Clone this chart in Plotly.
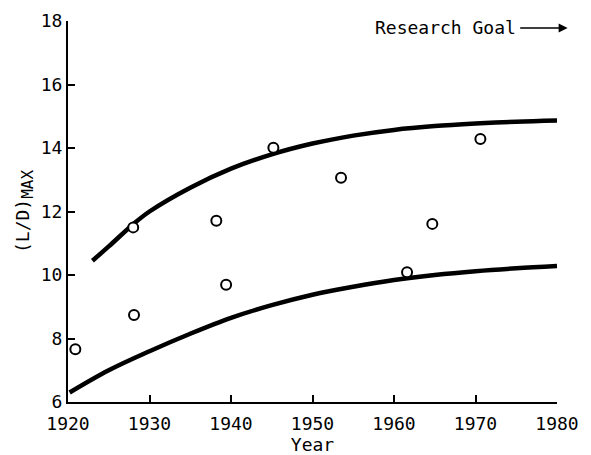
import plotly.graph_objects as go

# Upper trend curve
upper_year = [1923, 1925, 1928, 1930, 1935, 1940, 1945, 1950, 1955, 1960, 1965, 1970, 1975, 1980]
upper_ld = [10.45, 10.9, 11.6, 12.0, 12.75, 13.35, 13.8, 14.14, 14.39, 14.57, 14.69, 14.77, 14.83, 14.87]

# Lower trend curve
lower_year = [1920.2, 1925, 1930, 1935, 1940, 1945, 1950, 1955, 1960, 1965, 1970, 1975, 1980]
lower_ld = [6.3, 7.0, 7.6, 8.15, 8.65, 9.05, 9.38, 9.63, 9.84, 10.0, 10.12, 10.21, 10.28]

# Data points
pt_year = [1920.9, 1928.0, 1928.1, 1938.2, 1939.4, 1945.2, 1953.5, 1961.6, 1964.7, 1970.6]
pt_ld = [7.66, 11.5, 8.74, 11.71, 9.69, 14.01, 13.06, 10.09, 11.61, 14.28]

x_ticks = [1920, 1930, 1940, 1950, 1960, 1970, 1980]
y_ticks = [6, 8, 10, 12, 14, 16, 18]

FONT = "DejaVu Sans Mono"

fig = go.Figure()
fig.add_trace(go.Scatter(x=upper_year, y=upper_ld, mode="lines",
                         line=dict(color="black", width=4.5, shape="spline"),
                         showlegend=False, hoverinfo="skip"))
fig.add_trace(go.Scatter(x=lower_year, y=lower_ld, mode="lines",
                         line=dict(color="black", width=4.5, shape="spline"),
                         showlegend=False, hoverinfo="skip"))
fig.add_trace(go.Scatter(x=pt_year, y=pt_ld, mode="markers",
                         marker=dict(symbol="circle", size=10, color="white",
                                     line=dict(color="black", width=2)),
                         cliponaxis=False, showlegend=False))

fig.add_annotation(x=1975.2, y=17.8, xref="x", yref="y", text="Research Goal",
                   showarrow=False, xanchor="right", yanchor="middle",
                   font=dict(family=FONT, size=18, color="black"))
fig.add_annotation(x=1981.3, y=17.78, xref="x", yref="y",
                   ax=1975.3, ay=17.78, axref="x", ayref="y", text="",
                   showarrow=True, arrowhead=2, arrowsize=1.2, arrowwidth=1.5,
                   arrowcolor="black")

fig.update_xaxes(range=[1920, 1980], tickvals=x_ticks, ticktext=[str(t) for t in x_ticks],
                 showgrid=False, zeroline=False, showline=True, linecolor="black",
                 linewidth=2, ticks="inside", ticklen=7, tickwidth=2, tickcolor="black",
                 ticklabelstandoff=4, automargin=False,
                 tickfont=dict(family=FONT, size=18, color="black"),
                 title=dict(text="Year", font=dict(family=FONT, size=18, color="black"),
                            standoff=6))
fig.update_yaxes(range=[6, 18], tickvals=y_ticks, ticktext=[str(t) for t in y_ticks],
                 showgrid=False, zeroline=False, showline=True, linecolor="black",
                 linewidth=2, ticks="inside", ticklen=7, tickwidth=2, tickcolor="black",
                 automargin=False,
                 tickfont=dict(family=FONT, size=18, color="black"),
                 title=dict(text="(L/D)<sub><span style='font-size:16px'>MAX</span></sub>",
                            font=dict(family=FONT, size=18, color="black"),
                            standoff=6))

# page body has an 8px default margin, so the figure is sized to fit inside it
fig.update_layout(width=583, height=447,
                  margin=dict(l=60, r=34, t=13, b=53, autoexpand=False),
                  paper_bgcolor="white", plot_bgcolor="white",
                  font=dict(family=FONT, color="black"))

fig.write_html("out.html")
